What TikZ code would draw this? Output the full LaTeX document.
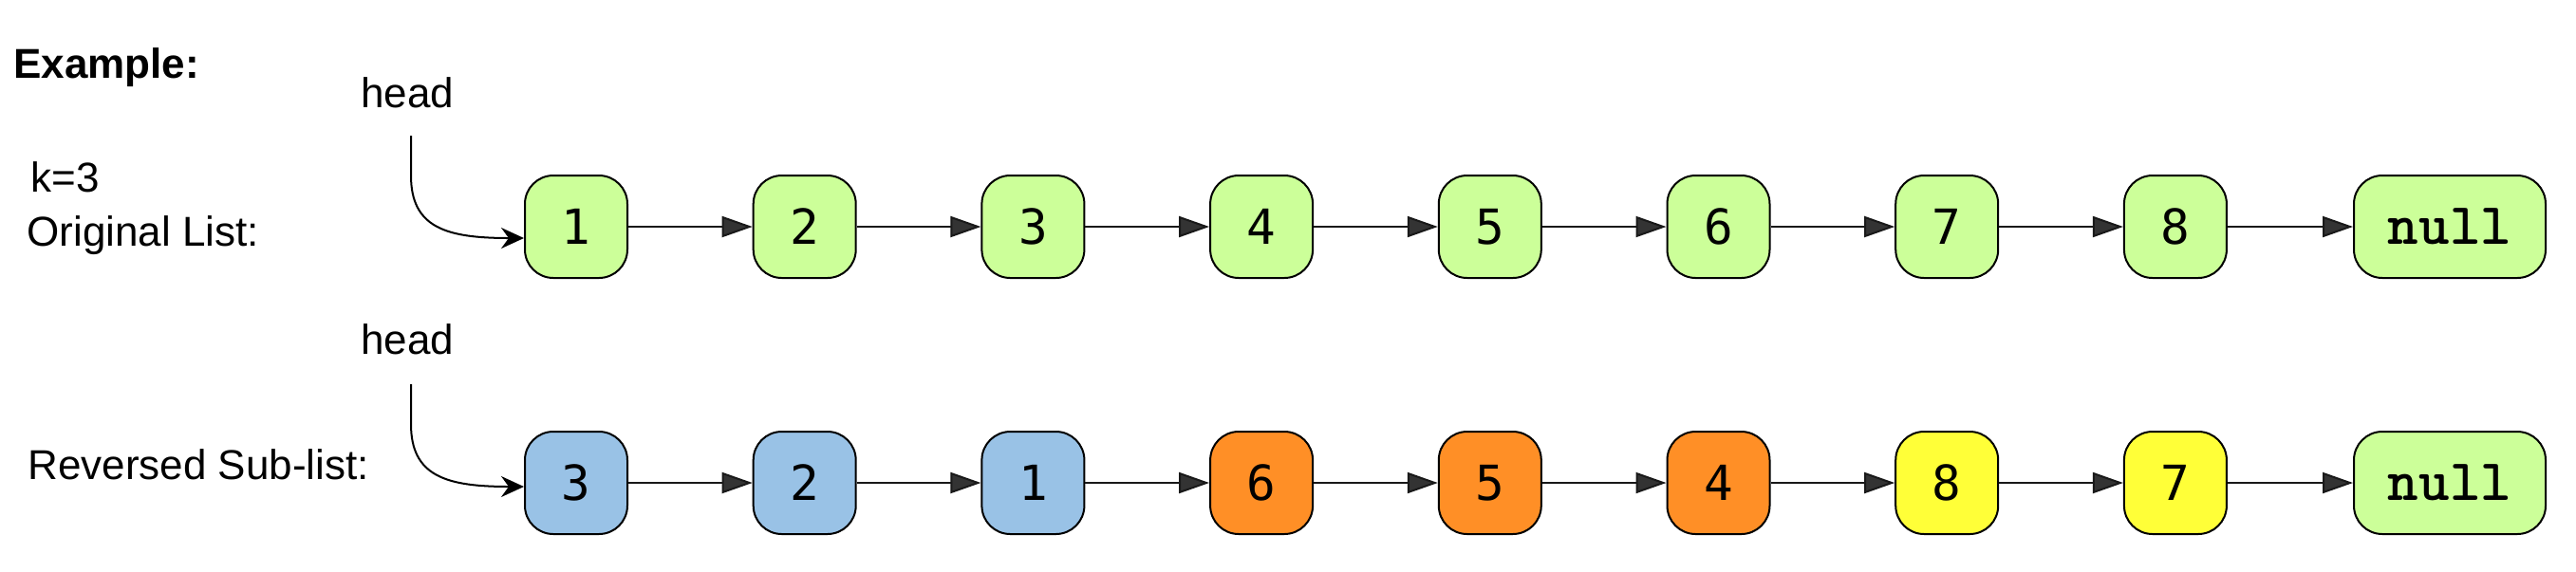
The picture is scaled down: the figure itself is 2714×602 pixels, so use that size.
\documentclass[tikz,border=0pt]{standalone}
\usepackage{fontspec}
\setmainfont{Liberation Sans}
\newfontfamily\digitfam{DejaVu Sans Mono}
\usetikzlibrary{arrows.meta,calc}
\definecolor{cgreen}{HTML}{CCFF99}
\definecolor{cblue}{HTML}{99C2E6}
\definecolor{corange}{HTML}{FF8F26}
\definecolor{cyellow}{HTML}{FFFF38}
\definecolor{tipgray}{HTML}{333333}
\begin{document}
\begin{tikzpicture}[x=0.5pt,y=-0.5pt,
  lnode/.style={draw=black, line width=1pt, rounded corners=15pt, minimum width=54pt, minimum height=54pt, inner sep=0pt, font=\digitfam\fontsize{25.5}{30}\selectfont},
  nullnode/.style={lnode, minimum width=101pt, font=\ttfamily\bfseries\fontsize{31}{36}\selectfont},
  link/.style={draw=black!90, line width=1pt, -{Triangle[length=16pt,width=11pt,fill=tipgray]}},
  headarrow/.style={draw=black, line width=1pt, -{Stealth[length=12pt,width=11pt,inset=4pt]}},
  txt/.style={font=\fontsize{22}{26}\selectfont, inner sep=0pt, anchor=base west},
]
\useasboundingbox (0,0) rectangle (2714,602);

% labels
\node[txt, font=\fontsize{22}{26}\selectfont\bfseries] (ex) at (14,82) {Example:};
\node[txt] (k) at (32,202) {k=3};
\node[txt] (orig) at (28,259) {Original List:};
\node[txt] (rev) at (29,505) {Reversed Sub-list:};
\node[txt] (h1) at (380,113) {head};
\node[txt] (h2) at (380,373) {head};

% top row
\node[lnode, fill=cgreen] (a1) at (607,239) {1};
\node[lnode, fill=cgreen] (a2) at (847.7,239) {2};
\node[lnode, fill=cgreen] (a3) at (1088.4,239) {3};
\node[lnode, fill=cgreen] (a4) at (1329.1,239) {4};
\node[lnode, fill=cgreen] (a5) at (1569.8,239) {5};
\node[lnode, fill=cgreen] (a6) at (1810.5,239) {6};
\node[lnode, fill=cgreen] (a7) at (2051.2,239) {7};
\node[lnode, fill=cgreen] (a8) at (2291.9,239) {8};
\node[nullnode, fill=cgreen] (a9) at (2581,239) {null};

% bottom row
\node[lnode, fill=cblue] (b1) at (607,509) {3};
\node[lnode, fill=cblue] (b2) at (847.7,509) {2};
\node[lnode, fill=cblue] (b3) at (1088.4,509) {1};
\node[lnode, fill=corange] (b4) at (1329.1,509) {6};
\node[lnode, fill=corange] (b5) at (1569.8,509) {5};
\node[lnode, fill=corange] (b6) at (1810.5,509) {4};
\node[lnode, fill=cyellow] (b7) at (2051.2,509) {8};
\node[lnode, fill=cyellow] (b8) at (2291.9,509) {7};
\node[nullnode, fill=cgreen] (b9) at (2581,509) {null};

% links
\foreach \i/\j in {1/2,2/3,3/4,4/5,5/6,6/7,7/8,8/9}{
  \draw[link] (a\i.east) -- (a\j.west);
  \draw[link] (b\i.east) -- (b\j.west);
}

% head pointers
\coordinate (h1s) at (433,143);
\coordinate (h2s) at (433,405);
\draw[headarrow] (h1s) -- (433,185) .. controls (433,240) and (470,251) .. ($(a1.west)+(0,12)$);
\draw[headarrow] (h2s) -- (433,447) .. controls (433,502) and (470,513) .. ($(b1.west)+(0,4)$);
\end{tikzpicture}
\end{document}
